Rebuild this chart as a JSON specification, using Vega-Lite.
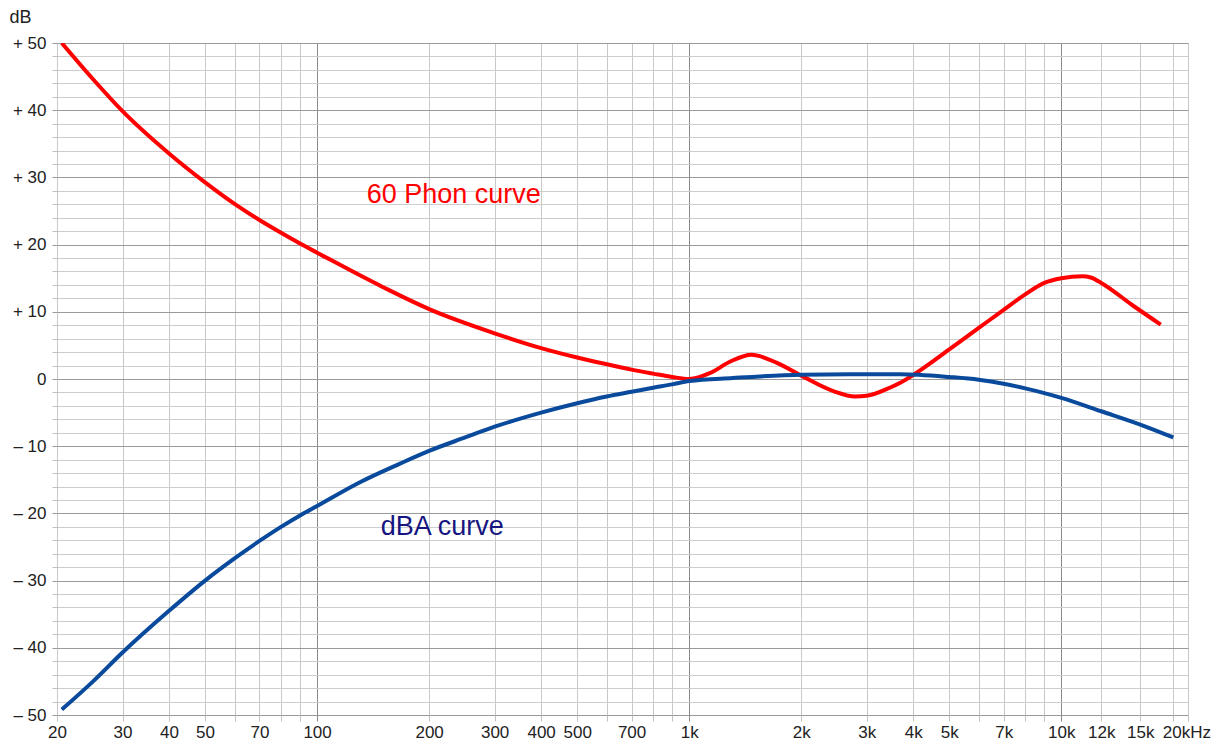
{
  "$schema": "https://vega.github.io/schema/vega-lite/v6.json",
  "autosize": "none",
  "width": 1131,
  "height": 672,
  "padding": {"left": 57, "top": 43, "right": 42, "bottom": 33},
  "background": "white",
  "config": {"view": {"stroke": null}},
  "datasets": {
    "phon": [
      {"f": 20.6, "v": 50}, {"f": 25, "v": 44.6}, {"f": 30, "v": 39.85}, {"f": 40, "v": 33.55},
      {"f": 50, "v": 29.25}, {"f": 60, "v": 26.05}, {"f": 70, "v": 23.65}, {"f": 80, "v": 21.75},
      {"f": 90, "v": 20.15}, {"f": 100, "v": 18.8}, {"f": 150, "v": 13.7}, {"f": 200, "v": 10.4},
      {"f": 300, "v": 6.8}, {"f": 400, "v": 4.6}, {"f": 500, "v": 3.2}, {"f": 600, "v": 2.2},
      {"f": 700, "v": 1.4}, {"f": 800, "v": 0.8}, {"f": 900, "v": 0.3}, {"f": 1000, "v": 0},
      {"f": 1140, "v": 0.9}, {"f": 1290, "v": 2.6}, {"f": 1470, "v": 3.6}, {"f": 1720, "v": 2.4},
      {"f": 2000, "v": 0.5}, {"f": 2440, "v": -1.8}, {"f": 2790, "v": -2.6}, {"f": 3000, "v": -2.5},
      {"f": 3460, "v": -1.3}, {"f": 3680, "v": -0.6}, {"f": 4000, "v": 0.6}, {"f": 5000, "v": 4.4},
      {"f": 6000, "v": 7.6}, {"f": 7000, "v": 10.3}, {"f": 8000, "v": 12.6}, {"f": 9000, "v": 14.3},
      {"f": 10000, "v": 15.0}, {"f": 11400, "v": 15.3}, {"f": 12000, "v": 15.1}, {"f": 12800, "v": 14.3},
      {"f": 15600, "v": 10.9}, {"f": 18500, "v": 8.1}
    ],
    "dba": [
      {"f": 20.6, "v": -49.2}, {"f": 25, "v": -45.0}, {"f": 30, "v": -40.7}, {"f": 40, "v": -34.5},
      {"f": 50, "v": -30.0}, {"f": 60, "v": -26.7}, {"f": 70, "v": -24.1}, {"f": 80, "v": -22.0},
      {"f": 90, "v": -20.3}, {"f": 100, "v": -18.9}, {"f": 130, "v": -15.4}, {"f": 167, "v": -12.6},
      {"f": 200, "v": -10.7}, {"f": 250, "v": -8.7}, {"f": 300, "v": -7.1}, {"f": 400, "v": -5.0},
      {"f": 500, "v": -3.6}, {"f": 600, "v": -2.6}, {"f": 700, "v": -1.9}, {"f": 800, "v": -1.3},
      {"f": 900, "v": -0.8}, {"f": 1000, "v": -0.3}, {"f": 1310, "v": 0.15}, {"f": 2000, "v": 0.64},
      {"f": 2700, "v": 0.7}, {"f": 3680, "v": 0.7}, {"f": 5000, "v": 0.3}, {"f": 6000, "v": -0.1},
      {"f": 7000, "v": -0.7}, {"f": 8000, "v": -1.4}, {"f": 9000, "v": -2.1}, {"f": 10000, "v": -2.8},
      {"f": 12800, "v": -4.8}, {"f": 16700, "v": -7.0}, {"f": 20000, "v": -8.7}
    ],
    "labels": [
      {"f": 233, "v": 27.4, "label": "60 Phon curve", "series": "phon"},
      {"f": 217, "v": -22.0, "label": "dBA curve", "series": "dba"}
    ]
  },
  "encoding": {
    "x": {
      "field": "f", "type": "quantitative",
      "scale": {"type": "log", "domain": [20, 21900], "nice": false, "zero": false},
      "axis": {
        "title": null,
        "values": [20,30,40,50,60,70,80,90,100,200,300,400,500,600,700,800,900,1000,2000,3000,4000,5000,6000,7000,8000,9000,10000,12800,16300,20000,21900],
        "labelExpr": "indexof([20,30,40,50,70,100,200,300,400,500,700],datum.value)>=0 ? ''+datum.value : indexof([1000,2000,3000,4000,5000,7000,10000],datum.value)>=0 ? (datum.value/1000)+'k' : datum.value==12800 ? '12k' : datum.value==16300 ? '15k' : datum.value==20000 ? '20kHz' : ''",
        "grid": true,
        "gridColor": {"condition": {"test": "datum.value==100 || datum.value==1000 || datum.value==10000", "value": "#8a8a8a"}, "value": "#c8c8c8"},
        "tickColor": {"condition": {"test": "datum.value==100 || datum.value==1000 || datum.value==10000", "value": "#8a8a8a"}, "value": "#c0c0c0"},
        "tickSize": 6,
        "domain": false,
        "labelFont": "Liberation Sans",
        "labelFontSize": 17,
        "labelColor": "#222222",
        "labelPadding": 3,
        "labelOverlap": false,
        "labelFlush": false,
        "labelBound": false,
        "labelAlign": {"condition": {"test": "datum.value==20000", "value": "left"}, "value": "center"},
        "labelOffset": {"condition": {"test": "datum.value==20000", "value": -11}, "value": 0}
      }
    },
    "y": {
      "field": "v", "type": "quantitative",
      "scale": {"domain": [-50, 50], "nice": false, "zero": false},
      "axis": {
        "title": "dB",
        "titleAngle": 0,
        "titleAlign": "left",
        "titleBaseline": "alphabetic",
        "titleX": -48,
        "titleY": -21,
        "titleFont": "Liberation Sans",
        "titleFontSize": 18,
        "titleFontWeight": "normal",
        "titleColor": "#222222",
        "values": [-50,-48,-46,-44,-42,-40,-38,-36,-34,-32,-30,-28,-26,-24,-22,-20,-18,-16,-14,-12,-10,-8,-6,-4,-2,0,2,4,6,8,10,12,14,16,18,20,22,24,26,28,30,32,34,36,38,40,42,44,46,48,50],
        "labelExpr": "datum.value % 10 !== 0 ? '' : datum.value > 0 ? '+ ' + datum.value : datum.value < 0 ? '– ' + abs(datum.value) : '0'",
        "grid": true,
        "gridColor": {"condition": {"test": "datum.value % 10 === 0", "value": "#9a9a9a"}, "value": "#cdcdcd"},
        "tickColor": {"condition": {"test": "datum.value % 10 === 0", "value": "#9a9a9a"}, "value": "#c0c0c0"},
        "tickSize": 5,
        "domain": false,
        "labelFont": "Liberation Sans",
        "labelFontSize": 17,
        "labelColor": "#222222",
        "labelPadding": 6,
        "labelOverlap": false,
        "labelFlush": false,
        "labelBound": false
      }
    }
  },
  "layer": [
    {
      "data": {"name": "phon"},
      "mark": {"type": "line", "color": "#ff0000", "strokeWidth": 4, "interpolate": "monotone", "clip": true}
    },
    {
      "data": {"name": "dba"},
      "mark": {"type": "line", "color": "#0a4a9c", "strokeWidth": 4, "interpolate": "monotone", "clip": true}
    },
    {
      "data": {"name": "labels"},
      "mark": {"type": "text", "font": "Liberation Sans", "fontSize": 27, "align": "center", "baseline": "middle"},
      "encoding": {
        "text": {"field": "label"},
        "color": {"field": "series", "type": "nominal", "scale": {"domain": ["phon", "dba"], "range": ["#ff0000", "#161680"]}, "legend": null}
      }
    }
  ]
}
